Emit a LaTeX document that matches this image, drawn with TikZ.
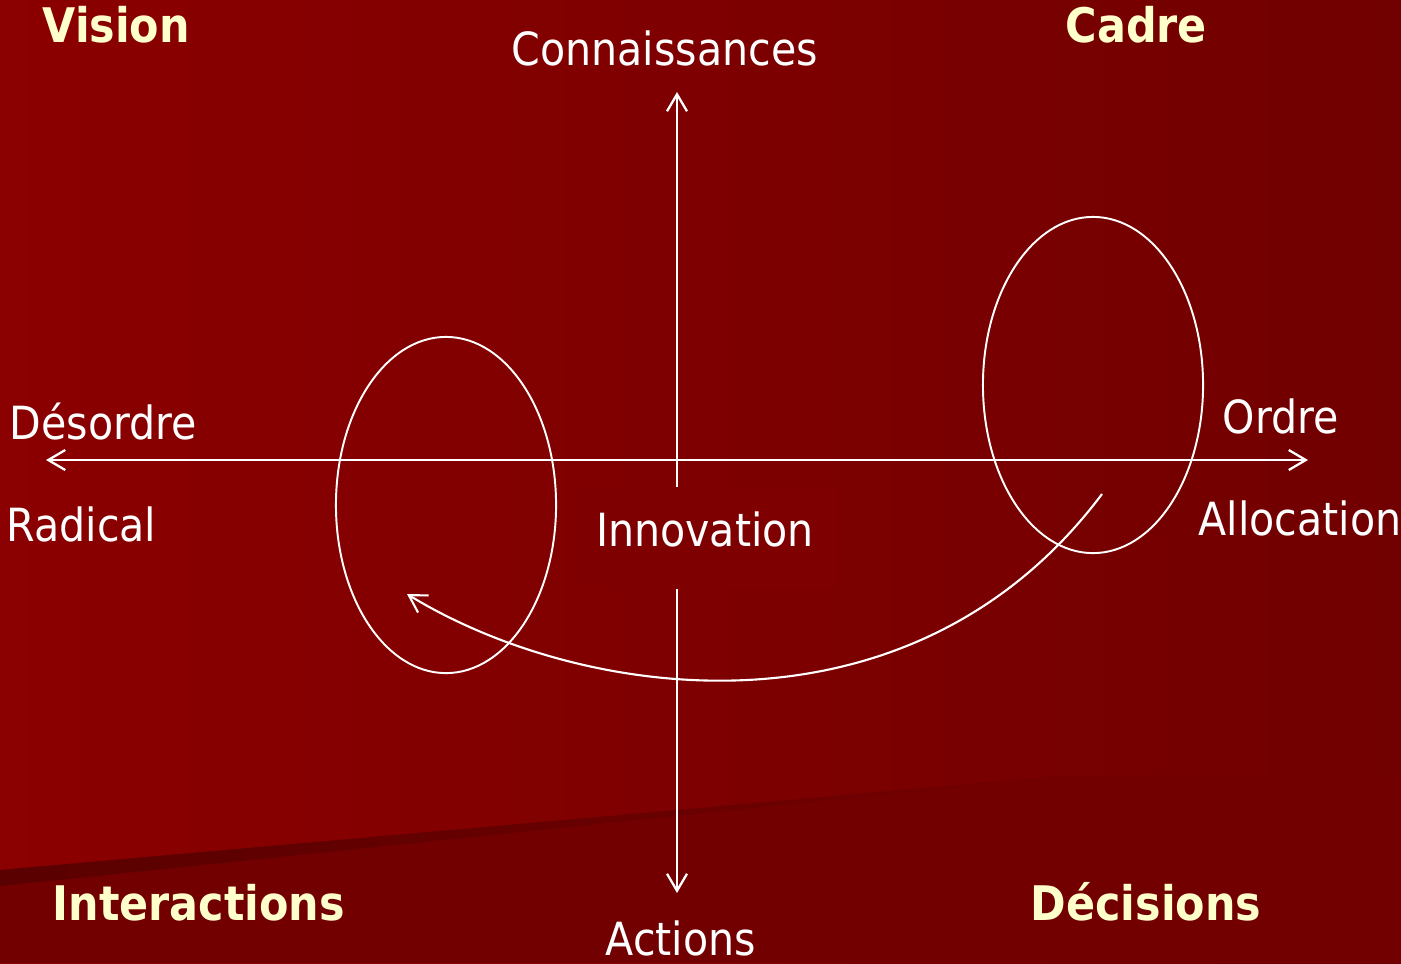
\documentclass[tikz,border=0pt]{standalone}
\usepackage{fontspec}
\setmainfont{DejaVu Sans Condensed}
\usetikzlibrary{arrows.meta,shapes.geometric}

\definecolor{bgleft}{HTML}{8B0000}
\definecolor{bgright}{HTML}{710000}
\definecolor{bgmid}{HTML}{7E0000}
\definecolor{bgbottom}{HTML}{720000}
\definecolor{bgstripe}{HTML}{5A0000}
\definecolor{paleyellow}{HTML}{FFFFCC}

\begin{document}
\begin{tikzpicture}[x=0.01cm, y=-0.01cm, >={Straight Barb[length=1.7mm,width=2mm]},
                    axis label/.style={text=white, inner sep=0pt, font=\fontsize{13}{16}\selectfont},
                    corner label/.style={text=paleyellow, inner sep=0pt, font=\fontsize{13.55}{16}\selectfont\bfseries},
                    zone/.style={ellipse, draw=white, line width=0.55pt, inner sep=0pt,
                                 minimum width=2.2cm, minimum height=3.36cm}]

  % background
  \useasboundingbox (0,0) rectangle (1401,963);
  \shade[left color=bgleft, right color=bgright] (0,0) rectangle (1401,963);
  \fill[bgbottom] (0,870) -- (1072,775) -- (1401,775) -- (1401,963) -- (0,963) -- cycle;
  \shade[left color=bgstripe, right color=bgbottom] (0,870) -- (1072,775) -- (0,886) -- cycle;

  \node[corner label, anchor=base west] (vision) at (42,42) {Vision};
  \node[corner label, anchor=base west] (cadre) at (1065,42) {Cadre};
  \node[corner label, anchor=base west] (interactions) at (52,920) {Interactions};
  \node[corner label, anchor=base west] (decisions) at (1030,920) {Décisions};

  \node[axis label, anchor=base west] (connaissances) at (511,65) {Connaissances};
  \node[axis label, anchor=base west] (actions) at (605,955) {Actions};
  \node[axis label, anchor=base west] (desordre) at (9,439) {Désordre};
  \node[axis label, anchor=base west] (radical) at (6,541) {Radical};
  \node[axis label, anchor=base west] (ordre) at (1222,433) {Ordre};
  \node[axis label, anchor=base west] (allocation) at (1198,535) {Allocation};
  \node[axis label, anchor=base, fill=bgmid, text height=0.58cm, text depth=0.42cm,
        inner xsep=0.22cm] (innovation) at (705,546) {Innovation};

  \node[zone] (radical zone) at (446,505) {};
  \node[zone] (allocation zone) at (1093,385) {};

  \coordinate (west tip) at (46,460);
  \coordinate (east tip) at (1308,460);
  \coordinate (north tip) at (677,92);
  \coordinate (south tip) at (677,893);
  \coordinate (jump start) at (1102,494);
  \coordinate (jump end) at (407,594);

\path[draw=white, line width=0.65pt]
     (west tip) edge [<->] (east tip)
     (innovation.north -| north tip) edge [->] (north tip)
     (innovation.south -| south tip) edge [->] (south tip)
   ;
  \draw[white, line width=0.6pt, ->] (jump start) .. controls (910,750) and (580,700) .. (jump end);

\end{tikzpicture}
\end{document}
